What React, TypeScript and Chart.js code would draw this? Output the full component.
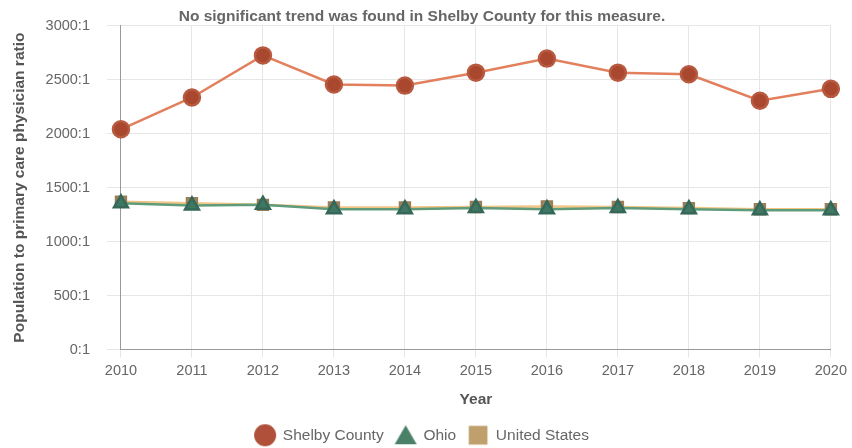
import React, { useEffect, useRef } from "react";
import { Chart, registerables } from "chart.js";

Chart.register(...registerables);

const years = ["2010", "2011", "2012", "2013", "2014", "2015", "2016", "2017", "2018", "2019", "2020"];
const shelbyCounty = [2040, 2335, 2725, 2455, 2445, 2565, 2695, 2565, 2550, 2305, 2415];
const ohio = [1355, 1335, 1340, 1300, 1300, 1310, 1300, 1310, 1300, 1290, 1290];
const unitedStates = [1370, 1355, 1340, 1315, 1315, 1320, 1325, 1320, 1310, 1300, 1300];
const yTicks = [0, 500, 1000, 1500, 2000, 2500, 3000];

const FONT = "Arial, 'Liberation Sans', sans-serif";

function makeIcon(kind: string, color: string, size: number): HTMLCanvasElement {
  const c = document.createElement("canvas");
  c.width = size;
  c.height = size;
  const ctx = c.getContext("2d")!;
  ctx.fillStyle = color;
  if (kind === "circle") {
    ctx.beginPath();
    ctx.arc(size / 2, size / 2, size / 2 - 1, 0, Math.PI * 2);
    ctx.fill();
  } else if (kind === "triangle") {
    ctx.beginPath();
    ctx.moveTo(size / 2, 2);
    ctx.lineTo(size - 1, size - 3);
    ctx.lineTo(1, size - 3);
    ctx.closePath();
    ctx.fill();
  } else {
    const s = size * 0.78;
    ctx.fillRect((size - s) / 2, (size - s) / 2, s, s);
  }
  return c;
}

export default function App() {
  const ref = useRef<HTMLCanvasElement>(null);
  useEffect(() => {
    if (!ref.current) return;
    const icons = [
      makeIcon("circle", "#b0503a", 24),
      makeIcon("triangle", "#4b8068", 24),
      makeIcon("square", "#bf9f6c", 24),
    ];
    const chart = new Chart(ref.current, {
      type: "line",
      data: {
        labels: years,
        datasets: [
          {
            label: "Shelby County",
            data: shelbyCounty,
            borderColor: "#e2805e",
            backgroundColor: "#a9482f",
            pointBorderColor: "#b85a40",
            pointBackgroundColor: "#a9482f",
            pointStyle: "circle",
            pointRadius: 8,
            borderWidth: 2.5,
            tension: 0,
          },
          {
            label: "United States",
            data: unitedStates,
            borderColor: "#f2c584",
            backgroundColor: "#b59868",
            pointBorderColor: "#9a7e58",
            pointBackgroundColor: "#b59868",
            pointStyle: "rect",
            pointRadius: 7,
            borderWidth: 2.5,
            tension: 0,
            order: 2,
          },
          {
            label: "Ohio",
            data: ohio,
            borderColor: "#5f9c7c",
            backgroundColor: "#3f7763",
            pointBorderColor: "#36685a",
            pointBackgroundColor: "#3f7763",
            pointStyle: "triangle",
            pointRadius: 8,
            borderWidth: 2.5,
            tension: 0,
            order: 1,
          },
        ],
      },
      options: {
        animation: false,
        responsive: true,
        maintainAspectRatio: false,
        layout: { padding: { left: 10, right: 18, top: 0, bottom: -5 } },
        plugins: {
          title: {
            display: true,
            text: "No significant trend was found in Shelby County for this measure.",
            color: "#666",
            font: { family: FONT, size: 15.5, weight: "bold" },
            padding: { top: 3, bottom: 0 },
          },
          legend: {
            position: "bottom",
            labels: {
              usePointStyle: true,
              pointStyleWidth: 20,
              color: "#666",
              font: { family: FONT, size: 15.5 },
              padding: 12,
              sort: (a: any, b: any) => {
                const ord = ["Shelby County", "Ohio", "United States"];
                return ord.indexOf(a.text) - ord.indexOf(b.text);
              },
              generateLabels: (ch: any) => {
                const base = Chart.defaults.plugins.legend.labels.generateLabels(ch);
                const map: Record<string, number> = { "Shelby County": 0, "Ohio": 1, "United States": 2 };
                return base.map((it: any) => ({ ...it, pointStyle: icons[map[it.text]] }));
              },
            },
          },
          tooltip: { enabled: false },
        },
        scales: {
          x: {
            type: "category",
            offset: false,
            grid: { color: "#e6e6e6", tickLength: 8, drawTicks: true },
            border: { color: "#999" },
            ticks: { color: "#666", font: { family: FONT, size: 14.5 }, padding: 5, maxRotation: 0 },
            title: {
              display: true,
              text: "Year",
              color: "#555",
              font: { family: FONT, size: 15.5, weight: "bold" },
              padding: { top: 6, bottom: 6 },
            },
          },
          y: {
            min: 0,
            max: 3000,
            afterBuildTicks: (axis: any) => {
              axis.ticks = yTicks.map((v) => ({ value: v }));
            },
            grid: { color: "#e6e6e6", tickLength: 14 },
            border: { color: "#999" },
            ticks: {
              color: "#666",
              font: { family: FONT, size: 14.5 },
              padding: 17,
              callback: (v: any) => v + ":1",
            },
            title: {
              display: true,
              text: "Population to primary care physician ratio",
              color: "#555",
              font: { family: FONT, size: 15.5, weight: "bold" },
              padding: { top: 0, bottom: 0 },
            },
          },
        },
      },
    });
    return () => chart.destroy();
  }, []);
  return (
    <div style={{ position: "absolute", left: 0, top: 0, width: 852, height: 448, background: "#fff" }}>
      <canvas ref={ref} />
    </div>
  );
}
